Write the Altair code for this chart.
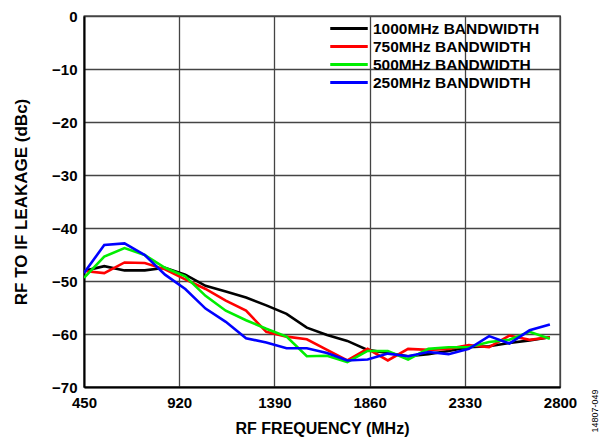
import altair as alt
import pandas as pd

freqs = [450, 550, 650, 750, 850, 950, 1050, 1150, 1250, 1350, 1450, 1550,
         1650, 1750, 1850, 1950, 2050, 2150, 2250, 2350, 2450, 2550, 2650, 2750]
bw1000 = [-48.1, -47.2, -48.0, -48.0, -47.5, -48.8, -50.9, -52.0, -53.1, -54.6, -56.2, -58.8,
          -60.2, -61.3, -63.0, -63.6, -64.2, -63.8, -63.2, -62.5, -62.3, -61.7, -61.2, -60.6]
bw750 = [-48.1, -48.5, -46.5, -46.6, -47.8, -49.7, -51.5, -53.7, -55.6, -59.6, -60.5, -61.0,
         -63.0, -65.0, -62.8, -65.0, -62.8, -63.0, -62.8, -62.1, -62.5, -60.3, -61.1, -60.6]
bw500 = [-49.4, -45.4, -43.8, -45.1, -47.5, -49.1, -52.8, -55.6, -57.4, -59.0, -60.5, -64.2,
         -64.1, -65.3, -63.2, -63.2, -64.8, -62.8, -62.5, -62.5, -61.5, -61.1, -59.6, -60.9]
bw250 = [-48.5, -43.2, -42.9, -45.1, -48.8, -51.5, -55.2, -57.7, -60.8, -61.6, -62.7, -62.7,
         -63.6, -65.0, -64.8, -63.7, -64.2, -63.4, -63.8, -62.8, -60.4, -61.8, -59.3, -58.2]

series_names = ["1000MHz BANDWIDTH", "750MHz BANDWIDTH", "500MHz BANDWIDTH", "250MHz BANDWIDTH"]
series_colors = ["#000000", "#ff0000", "#00ee00", "#0000ff"]
x_ticks = [450, 920, 1390, 1860, 2330, 2800]
y_ticks = [0, -10, -20, -30, -40, -50, -60, -70]

rows = []
for k, (name, vals) in enumerate(zip(series_names, [bw1000, bw750, bw500, bw250])):
    for f, v in zip(freqs, vals):
        rows.append({"freq": f, "leak": v, "series": name, "ord": k})
df = pd.DataFrame(rows)

FONT = "Liberation Sans"

lines = alt.Chart(df).mark_line(strokeWidth=2.6, clip=True).encode(
    x=alt.X("freq:Q", scale=alt.Scale(domain=[450, 2800], nice=False),
            axis=alt.Axis(values=x_ticks, title="RF FREQUENCY (MHz)", format="d",
                          grid=True, gridColor="#444444", gridWidth=1.3,
                          domainColor="#000000", domainWidth=2, ticks=False,
                          labelFlush=False,
                          labelPadding=8, titlePadding=10, titleFontSize=16)),
    y=alt.Y("leak:Q", scale=alt.Scale(domain=[-70, 0], nice=False),
            axis=alt.Axis(values=y_ticks, title="RF TO IF LEAKAGE (dBc)",
                          grid=True, gridColor="#444444", gridWidth=1.3,
                          domainColor="#000000", domainWidth=2, ticks=False,
                          labelPadding=7, titlePadding=21, titleFontSize=17)),
    color=alt.Color("series:N", sort=series_names,
                    scale=alt.Scale(domain=series_names, range=series_colors),
                    legend=alt.Legend(title=None, orient="none", legendX=256, legendY=3.5,
                                      symbolType="M-2.5,0L2.5,0", symbolSize=225,
                                      symbolStrokeWidth=3, labelFontSize=15.5,
                                      labelFont=FONT, labelFontWeight="bold",
                                      labelColor="#000000", rowPadding=0,
                                      labelOffset=15, labelLimit=400)),
    order=alt.Order("ord:Q"),
    detail="series:N",
)

note = alt.Chart(pd.DataFrame({"t": ["14807-049"]})).mark_text(
    angle=270, fontSize=9, font=FONT, color="#000000"
).encode(x=alt.value(511), y=alt.value(395), text="t:N")

chart = alt.layer(lines, note).properties(
    width=476, height=371,
    padding={"left": 76, "top": 8, "right": 42, "bottom": 54},
    autosize=alt.AutoSizeParams(type="none"),
).configure_axis(
    labelFont=FONT, labelFontSize=15, labelFontWeight="bold", labelColor="#000000",
    titleFont=FONT, titleFontWeight="bold", titleColor="#000000",
).configure_view(
    stroke="#000000", strokeWidth=1.3
)

chart.save("out.html", embed_options={"renderer": "svg", "actions": False})
